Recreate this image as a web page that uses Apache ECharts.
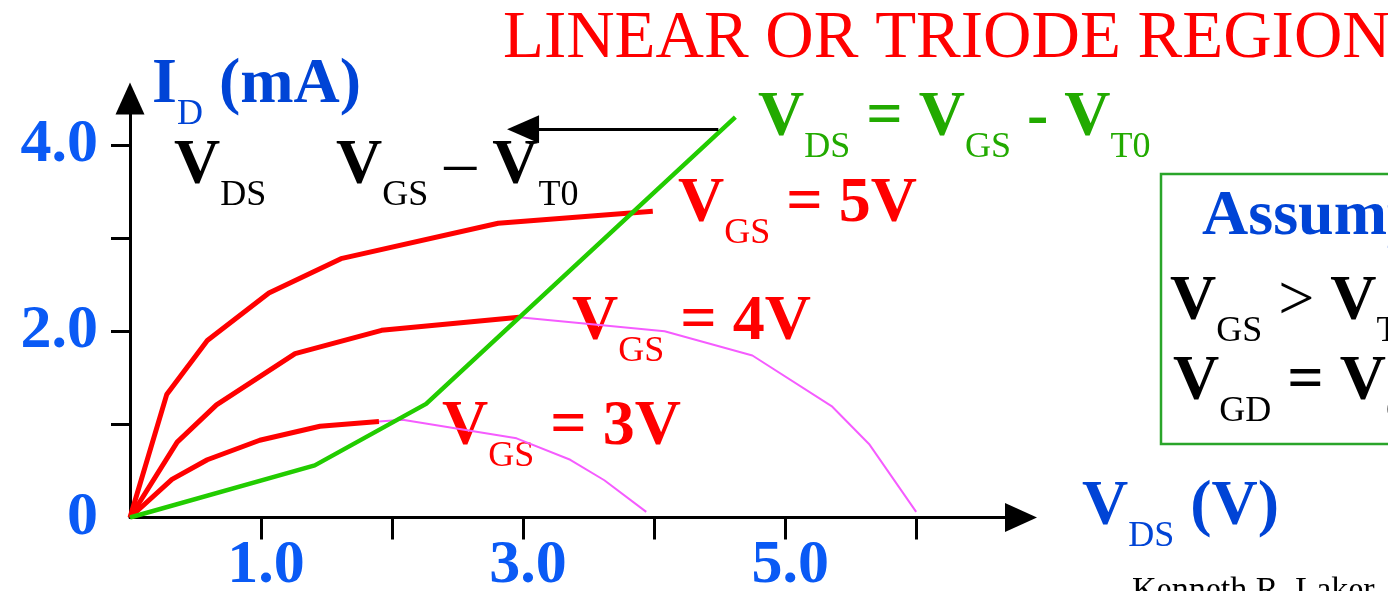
<!DOCTYPE html>
<html>
<head>
<meta charset="utf-8">
<title>Linear or triode region</title>
<script src="https://cdn.jsdelivr.net/npm/echarts@6.0.0/dist/echarts.min.js"></script>
<style>
  html, body { margin: 0; padding: 0; background: #fff; }
  #chart { width: 1388px; height: 591px; }
</style>
</head>
<body>
<div id="chart"></div>
<script>
// I_D (mA) against V_DS (V)
const vgs5 = [[0, 0], [0.28, 1.32], [0.59, 1.90], [1.06, 2.41], [1.61, 2.78], [2.81, 3.16], [3.99, 3.29]]
const vgs4 = [[0, 0], [0.36, 0.81], [0.66, 1.21], [1.26, 1.76], [1.92, 2.01], [2.97, 2.15]]
const vgs3 = [[0, 0], [0.32, 0.41], [0.59, 0.62], [0.99, 0.83], [1.45, 0.98], [1.90, 1.03]]
// thin magenta continuation past V_DS = V_GS - V_T0
const vgs4Tail = [[2.97, 2.15], [4.08, 2.00], [4.75, 1.74], [5.36, 1.19], [5.64, 0.79], [6.00, 0.06]]
const vgs3Tail = [[1.90, 1.03], [2.08, 1.05], [2.95, 0.85], [3.36, 0.62], [3.62, 0.40], [3.94, 0.06]]
const edge = [[0, 0], [1.41, 0.56], [2.26, 1.22], [4.62, 4.30]]
const arrowFrom = [4.49, 4.17]
const arrowTo = [3.0, 4.17]

const xTicks = [1, 2, 3, 4, 5, 6]
const xLabels = [1, 3, 5]
const yTicks = [1, 2, 3, 4]
const yLabels = [0, 2, 4]

const SERIF = '"Liberation Serif", "Times New Roman", serif'
const RED = '#ff0000'
const MAGENTA = '#f55cff'
const GREEN = '#22cc00'
const BLUE = '#0a5af5'
const NAVY = '#0044d6'

const RICH = {
  m: { fontSize: 64, fontWeight: 'bold', fontFamily: SERIF, lineHeight: 70 },
  r: { fontSize: 64, fontFamily: SERIF, lineHeight: 70 },
  s: { fontSize: 36, fontFamily: SERIF, lineHeight: 36, padding: [60, 0, 0, 0] }
}

// x is the left edge, y the middle of the capitals
function formula (x, y, text, color) {
  return {
    type: 'text',
    x: x,
    y: y + 2,
    silent: true,
    style: { text: text, fill: color, align: 'left', verticalAlign: 'middle', rich: RICH }
  }
}

function tickText (v) {
  return v === 0 ? '0' : v.toFixed(1)
}

function curve (data, color, width) {
  return {
    type: 'line',
    data: data,
    showSymbol: false,
    symbol: 'none',
    silent: true,
    lineStyle: { color: color, width: width },
    emphasis: { disabled: true }
  }
}

const boundary = curve(edge, GREEN, 4.5)
boundary.markLine = {
  silent: true,
  symbol: ['none', 'triangle'],
  symbolSize: [28, 32],
  label: { show: false },
  lineStyle: { color: '#000', width: 3, type: 'solid' },
  emphasis: { disabled: true },
  data: [[{ coord: arrowFrom }, { coord: arrowTo }]]
}

const axisBase = {
  type: 'value',
  min: 0,
  interval: 1,
  splitLine: { show: false },
  axisLine: {
    show: true,
    onZero: false,
    symbol: ['none', 'triangle'],
    symbolSize: [29, 32],
    lineStyle: { color: '#000', width: 3 }
  }
}

const option = {
  animation: false,
  backgroundColor: '#fff',
  title: {
    text: 'LINEAR OR TRIODE REGION',
    left: 503,
    top: 6,
    padding: 0,
    textStyle: { color: RED, fontSize: 67, fontWeight: 'normal', fontFamily: SERIF }
  },
  grid: { left: 130, right: 367, top: 98.5, bottom: 73.5, outerBoundsMode: 'none', containLabel: false },
  xAxis: Object.assign({}, axisBase, {
    max: 6.8,
    axisTick: { show: true, customValues: xTicks, length: 22, lineStyle: { color: '#000', width: 3 } },
    axisLabel: {
      customValues: xLabels,
      formatter: tickText,
      margin: 17,
      padding: [0, 0, 0, 10],
      color: BLUE,
      fontSize: 62,
      fontWeight: 'bold',
      fontFamily: SERIF
    }
  }),
  yAxis: Object.assign({}, axisBase, {
    max: 4.5,
    axisTick: { show: true, customValues: yTicks, length: 19, lineStyle: { color: '#000', width: 3 } },
    axisLabel: {
      customValues: yLabels,
      formatter: tickText,
      margin: 32,
      color: BLUE,
      fontSize: 62,
      fontWeight: 'bold',
      fontFamily: SERIF
    }
  }),
  series: [
    curve(vgs3Tail, MAGENTA, 2),
    curve(vgs4Tail, MAGENTA, 2),
    curve(vgs3, RED, 5),
    curve(vgs4, RED, 5),
    curve(vgs5, RED, 5),
    boundary
  ],
  graphic: [
    formula(152, 83, '{m|I}{s|D}{m| (mA)}', NAVY),
    formula(174, 164, '{m|V}{s|DS}', '#000'),
    formula(336, 164, '{m|V}{s|GS}{r| – }{m|V}{s|T0}', '#000'),
    formula(758, 116, '{m|V}{s|DS}{m| = V}{s|GS}{m| - V}{s|T0}', '#22aa00'),
    formula(678, 202, '{m|V}{s|GS}{m| = 5V}', RED),
    formula(572, 320, '{m|V}{s|GS}{m| = 4V}', RED),
    formula(442, 425, '{m|V}{s|GS}{m| = 3V}', RED),
    {
      type: 'rect',
      silent: true,
      shape: { x: 1161, y: 174, width: 260, height: 270 },
      style: { fill: 'none', stroke: '#2aa52a', lineWidth: 2.5 }
    },
    formula(1202, 215, '{m|Assumptions}', NAVY),
    formula(1170, 300, '{m|V}{s|GS}{r| > }{m|V}{s|T0}', '#000'),
    formula(1173, 380, '{m|V}{s|GD}{m| = V}{s|GS}{m| - V}{s|DS}', '#000'),
    formula(1082, 505, '{m|V}{s|DS}{m| (V)}', NAVY),
    {
      type: 'text',
      x: 1132,
      y: 574,
      silent: true,
      style: { text: 'Kenneth R. Laker', fill: '#000', fontSize: 34, fontFamily: SERIF, verticalAlign: 'top' }
    }
  ]
}

const myEcharts = echarts.init(document.getElementById('chart'))
myEcharts.setOption(option)
</script>
</body>
</html>
